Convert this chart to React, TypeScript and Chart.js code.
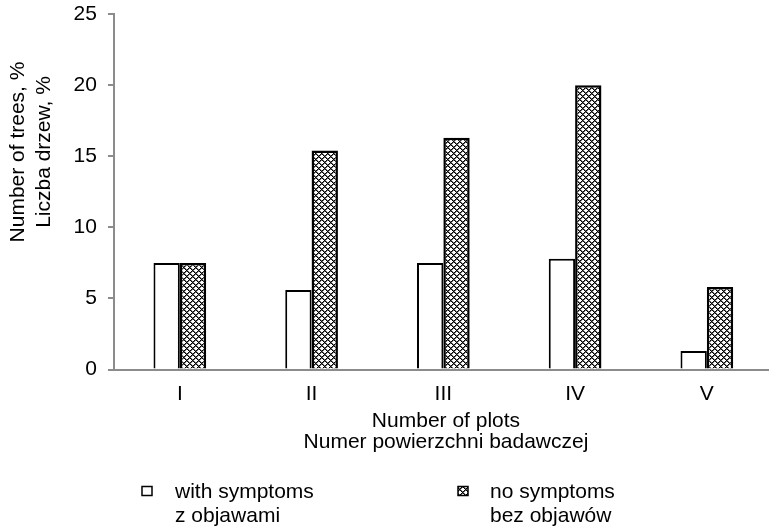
import React, { useEffect, useRef } from "react";
import { Chart, registerables } from "chart.js";

Chart.register(...registerables);

const categories = ["I", "II", "III", "IV", "V"];
const withSymptoms = [7.5, 5.6, 7.5, 7.8, 1.3];
const noSymptoms = [7.5, 15.4, 16.3, 20.0, 5.8];
const seriesLabels = [
  ["with symptoms", "z objawami"],
  ["no symptoms", "bez objawów"],
];
const yTicks = [0, 5, 10, 15, 20, 25];
const yTitle = ["Number of trees, %", "Liczba drzew, %"];
const xTitle = ["Number of plots", "Numer powierzchni badawczej"];

const FONT = "'Liberation Sans', Arial, sans-serif";
const FS = 21;
const CANVAS_W = 778;

function makePattern(): CanvasPattern | string {
  const n = 6;
  const c = document.createElement("canvas");
  c.width = n;
  c.height = n;
  const g = c.getContext("2d");
  if (!g) return "#777";
  g.fillStyle = "#ffffff";
  g.fillRect(0, 0, n, n);
  for (let y = 0; y < n; y++) {
    for (let x = 0; x < n; x++) {
      const a = (x + y) % n;
      const b = (((x - y) % n) + n) % n;
      if (a === 0 || b === 0) {
        g.fillStyle = "#000000";
        g.fillRect(x, y, 1, 1);
      } else if (a === 1 || b === 1) {
        g.fillStyle = "#6e6e6e";
        g.fillRect(x, y, 1, 1);
      }
    }
  }
  const p = g.createPattern(c, "repeat");
  return p || "#777";
}

export default function App() {
  const ref = useRef<HTMLCanvasElement | null>(null);

  useEffect(() => {
    if (!ref.current) return;
    const pattern = makePattern();

    const yTitlePlugin = {
      id: "yTitle",
      afterDraw(chart: any) {
        const ctx = chart.ctx;
        ctx.save();
        ctx.translate(0, 152);
        ctx.rotate(-Math.PI / 2);
        ctx.fillStyle = "#000";
        ctx.font = `${FS}px ${FONT}`;
        ctx.textAlign = "center";
        ctx.textBaseline = "middle";
        yTitle.forEach((t, k) => ctx.fillText(t, 0, 18.6 + k * 25.2));
        ctx.restore();
      },
    };

    const legendPlugin = {
      id: "customLegend",
      afterDraw(chart: any) {
        const ctx = chart.ctx;
        ctx.save();
        const items = [
          { x: 142, fill: "#ffffff", textX: 175 },
          { x: 458, fill: pattern, textX: 490 },
        ];
        items.forEach((it, i) => {
          ctx.fillStyle = it.fill;
          ctx.fillRect(it.x, 486.5, 10, 9);
          ctx.strokeStyle = "#000";
          ctx.lineWidth = 1.5;
          ctx.strokeRect(it.x, 486.5, 10, 9);
          ctx.fillStyle = "#000";
          ctx.font = `${FS}px ${FONT}`;
          ctx.textBaseline = "middle";
          ctx.textAlign = "left";
          const lbl = chart.data.datasets[i].label as any;
          const lines: string[] = Array.isArray(lbl) ? lbl : [lbl];
          lines.forEach((t, k) => ctx.fillText(t, it.textX, 492 + k * 24));
        });
        ctx.restore();
      },
    };

    const chart = new Chart(ref.current, {
      type: "bar",
      data: {
        datasets: [
          {
            label: seriesLabels[0] as any,
            data: withSymptoms.map((v, i) => ({ x: i, y: v })),
            backgroundColor: "#ffffff",
            borderColor: "#000000",
            borderWidth: 2,
            categoryPercentage: 0.4,
            barPercentage: 1,
          },
          {
            label: seriesLabels[1] as any,
            data: noSymptoms.map((v, i) => ({ x: i, y: v })),
            backgroundColor: pattern as any,
            borderColor: "#000000",
            borderWidth: 2.5,
            categoryPercentage: 0.4,
            barPercentage: 1,
          },
        ] as any,
      },
      options: {
        animation: false,
        responsive: false,
        maintainAspectRatio: false,
        layout: { padding: { top: 0, right: 0, bottom: 77, left: 62.6 } },
        plugins: {
          legend: { display: false },
          tooltip: { enabled: false },
        },
        scales: {
          x: {
            type: "linear",
            offset: false,
            min: -0.5,
            max: 4.54,
            afterBuildTicks: (axis: any) => {
              axis.ticks = categories.map((_, i) => ({ value: i }));
            },
            ticks: {
              autoSkip: false,
              maxRotation: 0,
              color: "#000",
              font: { family: FONT, size: FS, lineHeight: 1.2 },
              padding: 12.5,
              callback: (v: any) => categories[Math.round(Number(v))] ?? "",
            },
            grid: { display: false, drawTicks: false, offset: false },
            border: { display: true, color: "#8c8c8c", width: 2 },
            title: {
              display: true,
              text: xTitle,
              color: "#000",
              font: { family: FONT, size: FS, lineHeight: 1.0 },
              padding: { top: -8.7, bottom: 0 },
            },
          },
          y: {
            min: 0,
            max: 25,
            afterBuildTicks: (axis: any) => {
              axis.ticks = yTicks.map((v) => ({ value: v }));
            },
            ticks: {
              color: "#000",
              font: { family: FONT, size: FS, lineHeight: 0.3 },
              padding: 11,
            },
            grid: {
              drawOnChartArea: false,
              drawTicks: true,
              tickLength: 6,
              color: "#8c8c8c",
              lineWidth: 2,
            },
            border: { display: true, color: "#8c8c8c", width: 2 },
            title: { display: false },
          },
        },
      },
      plugins: [legendPlugin, yTitlePlugin],
    } as any);

    return () => chart.destroy();
  }, []);

  return (
    <div style={{ position: "absolute", left: 0, top: 0, width: 769, height: 530, overflow: "hidden", background: "#fff" }}>
      <canvas ref={ref} width={CANVAS_W} height={530} style={{ display: "block" }} />
    </div>
  );
}
